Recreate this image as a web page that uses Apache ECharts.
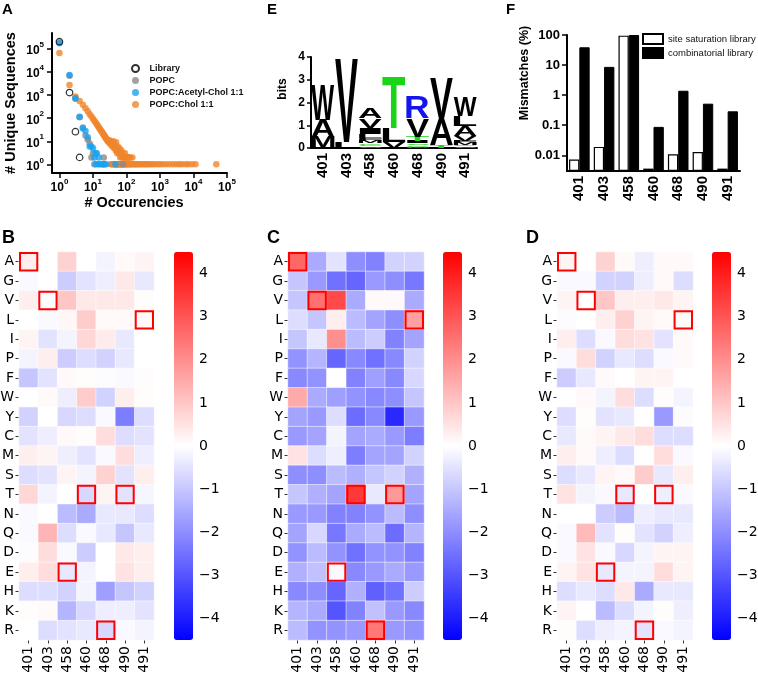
<!DOCTYPE html>
<html>
<head>
<meta charset="utf-8">
<script src="https://cdn.jsdelivr.net/npm/echarts@6/dist/echarts.min.js"></script>
<style>
  html, body { margin: 0; padding: 0; background: #fff; }
  #chart { width: 758px; height: 674px; }
</style>
</head>
<body>
<div id="chart"></div>
<script>
// ---- data ----
const positions = ['401', '403', '458', '460', '468', '490', '491'];
const residues = ['A','G','V','L','I','P','F','W','Y','C','M','S','T','N','Q','D','E','H','K','R'];

// panel A: [# occurencies, # unique sequences]
const libraryPts = [[1,210000],[2,1300],[3,26],[4,2]];
const popcPts = [[1,200000],[2,7000],[3,700],[4,110],[5,40],[6,18],[7,12],[8,8],[9,2],[10,3],[11,1],[21,2],[21,1],[78,1]];
const acetylPts = [[1,180000],[2,7600],[3,740],[4,115],[5,36],[6,28],[7,15],[8,6],[9,6],[10,5],[11,2],[12,3],[13,3],[15,2],
  [12,1],[14,1],[16,1],[18,1],[20,1],[22,1],[25,1],[47,1]];
const cholPts = [[1,67000],[2,2800],[3,870],[4,560],[5,380],[6,270],[7,200],[8,150],[9,120],[10,95],[11,78],[12,65],[13,55],
  [14,47],[15,40],[16,35],[17,30],[18,27],[19,24],[20,21],[21,19],[22,17],[23,16],[24,14],[25,13],[26,12],[27,11],[28,10],
  [30,9],[31,11],[32,8],[33,10],[35,7],[36,9],[38,6],[39,8],[41,10],[43,5],[44,7],[46,6],[48,4],[49,9],[51,5],[53,3],[55,6],
  [57,4],[60,3],[62,5],[65,2],[68,3],[71,4],[74,2],[78,3],[82,2],[86,2],[90,3],[95,2],[100,2],[106,2],[112,2],[120,2],[130,2],[150,2],
  [34,1],[37,1],[40,1],[42,1],[45,1],[47,1],[50,1],[52,1],[54,1],[56,1],[58,1],[61,1],[64,1],[67,1],[70,1],[73,1],[76,1],
  [80,1],[84,1],[88,1],[93,1],[98,1],[104,1],[110,1],[117,1],[125,1],[135,1],[145,1],[160,1],[175,1],[190,1],[210,1],[230,1],
  [250,1],[280,1],[320,1],[360,1],[400,1],[450,1],[520,1],[600,1],[700,1],[850,1],[1000,1],[1200,1],[1500,1],[1900,1],
  [2400,1],[3000,1],[3700,1],[4500,1],[5800,1],[7000,1],[9000,1],[11500,1],[48000,1]];
const powTicks = [1, 10, 100, 1000, 10000, 100000];

// panel E: sequence logo, letters bottom -> top, heights in bits
const logoLetters = [['M','A','W'], ['L','V'], ['S','G','C','M','F','L','I','V','A'], ['V','L','T'],
  ['G','C','S','I','T','V','R'], ['T','A','V'], ['S','G','M','F','V','A','L','W']];
const logoBits = [[0.48,0.77,1.5], [0.28,3.65], [0.07,0.07,0.08,0.1,0.12,0.16,0.3,0.4,0.45], [0.28,0.62,2.3],
  [0.06,0.06,0.08,0.1,0.2,0.8,0.95], [0.12,1.15,1.8], [0.07,0.07,0.08,0.1,0.2,0.43,0.47,0.85]];

// panel F: mismatches (%)
const siteSat = [0.0072, 0.019, 95, 0.0036, 0.0108, 0.0129, 0.0036];
const combinatorial = [39, 8.7, 100, 0.088, 1.4, 0.52, 0.29];
const mismatchTicks = [0.01, 0.1, 1, 10, 100];

// panels B, C, D: rows follow residues, columns follow positions
const heatB = [
  [0.3, 0.0, 0.8, 0.0, -0.2, 0.1, 0.2],
  [-0.1, 0.0, -0.9, -0.5, -0.3, 0.4, -0.4],
  [0.3, -0.05, 1.0, 0.4, 0.4, 0.4, 0.05],
  [0.0, -0.1, 0.15, 0.9, 0.1, 0.1, 0.1],
  [0.2, -0.5, -0.2, 0.7, 0.35, -0.4, 0.0],
  [-0.2, 0.3, -0.9, -0.6, -0.8, -0.4, 0.0],
  [-1.0, -0.5, 0.1, 0.05, -0.05, -0.1, 0.05],
  [0.0, 0.1, -0.3, 0.9, -0.8, 0.3, 0.05],
  [-0.8, 0.0, -0.7, -0.6, -0.1, -2.3, -0.6],
  [-0.5, -0.3, 0.1, 0.05, 0.6, -0.6, -0.5],
  [0.3, 0.2, -0.3, -0.5, -0.1, 0.6, -0.3],
  [-0.6, -0.5, 0.2, -0.2, 0.8, -0.5, 0.3],
  [0.7, -0.2, 0.0, -0.7, 0.2, -0.5, -0.15],
  [-0.1, 0.0, -1.2, -1.5, -0.4, -0.4, -0.6],
  [-0.1, 1.3, -0.6, -0.1, -0.4, -1.0, -0.4],
  [-0.05, 0.6, -0.1, -0.9, 0.0, 0.4, 0.3],
  [0.3, 0.6, -0.4, -0.2, 0.0, 0.5, 0.3],
  [-0.6, -0.6, -0.8, -0.2, -1.7, -1.0, -0.8],
  [0.05, 0.1, -1.3, -0.7, -0.3, -0.3, -0.5],
  [0.0, -0.6, -0.5, -0.4, -0.7, -0.1, -0.2]
];
const heatC = [
  [2.7, -1.5, -0.5, -2.0, -2.2, -0.8, -0.8],
  [-1.0, -1.8, -2.5, -2.7, -1.8, -2.0, -2.4],
  [-1.0, 2.5, 3.2, -1.5, 0.1, 0.1, -1.5],
  [-0.6, -1.0, 0.3, -1.2, -1.6, -2.0, 1.7],
  [-1.0, -0.4, 2.0, -1.2, -0.9, -2.2, -1.6],
  [-1.9, -1.3, -2.7, -2.1, -2.5, -2.1, -0.8],
  [-2.1, -1.9, 0.0, -2.2, -1.7, -2.1, -0.7],
  [1.5, -1.5, -1.7, -1.9, -2.1, -2.0, -1.0],
  [-1.6, -1.8, -0.6, -2.6, -2.1, -3.8, -1.8],
  [-1.8, -1.6, -0.2, -1.6, -1.5, -1.8, -2.3],
  [0.5, -0.6, -0.3, -2.3, -1.6, -1.6, -0.8],
  [-2.0, -2.0, -1.2, -1.4, -1.0, -0.8, -1.4],
  [-1.0, -1.4, -1.6, 3.5, -0.4, 1.8, -1.6],
  [-1.8, -1.8, -2.2, -2.2, -1.9, -1.2, -2.0],
  [-1.6, -0.7, -2.4, -1.5, -1.2, -2.6, -1.3],
  [-1.9, -1.2, -1.9, -2.5, -1.9, -1.9, -2.2],
  [-1.4, -1.1, -0.1, -2.1, -1.8, -1.5, -1.8],
  [-2.1, -2.0, -2.7, -1.4, -2.8, -2.5, -0.9],
  [-1.3, -1.5, -3.0, -2.2, -1.1, -1.8, -2.1],
  [-1.2, -1.9, -1.9, -1.8, 2.4, -1.8, -1.9]
];
const heatD = [
  [0.2, 0.0, 0.8, 0.1, -0.3, 0.1, 0.1],
  [-0.1, -0.1, -0.8, -0.8, -0.3, 0.1, -0.6],
  [0.2, 0.0, 1.0, 0.3, 0.3, 0.4, 0.2],
  [-0.05, 0.0, 0.3, 0.8, 0.2, 0.1, 0.1],
  [0.3, -0.6, -0.1, 0.6, 0.5, -0.5, 0.1],
  [-0.1, 0.6, -0.8, -0.4, -0.6, -0.1, 0.1],
  [-0.9, -0.4, 0.1, 0.0, 0.2, 0.2, 0.0],
  [0.0, 0.1, -0.2, 0.6, -0.6, 0.05, -0.2],
  [-0.6, 0.05, -0.5, -0.4, 0.0, -1.8, -0.05],
  [-0.4, 0.1, 0.2, 0.4, 0.6, -0.6, -0.6],
  [0.3, 0.1, -0.3, -0.6, 0.0, 0.6, -0.1],
  [-0.6, -0.4, 0.2, 0.1, 0.9, -0.4, 0.3],
  [0.5, -0.2, -0.1, -0.4, 0.0, -0.3, -0.1],
  [0.0, 0.0, -0.9, -1.2, -0.3, -0.4, -0.4],
  [-0.1, 1.2, -0.5, 0.05, -0.5, -0.8, -0.3],
  [-0.1, 0.5, -0.1, -0.7, -0.2, 0.2, 0.2],
  [0.2, 0.5, -0.4, -0.2, -0.2, 0.6, 0.2],
  [-0.6, -0.4, -0.6, 0.4, -1.5, -0.4, -0.4],
  [0.2, 0.0, -1.2, -0.6, -0.2, 0.05, -0.3],
  [0.05, -0.6, -0.3, -0.2, -0.5, -0.1, -0.2]
];
// wild-type residue at each position (red boxes)
const wildType = [['401','A'],['403','V'],['458','E'],['460','T'],['468','R'],['490','T'],['491','L']];
const cbarTicks = [-4, -3, -2, -1, 0, 1, 2, 3, 4];

// ---- helpers ----
const ARIAL = 'Liberation Sans';
const DEJAVU = 'DejaVu Sans';
const LOGO_FONT = 'bold 100px "Liberation Sans"';

function letterColor(ch) {
  if ('GSTYC'.indexOf(ch) >= 0) return '#19d419';
  if ('KRH'.indexOf(ch) >= 0) return '#1414ee';
  if ('DE'.indexOf(ch) >= 0) return '#e01010';
  if ('NQ'.indexOf(ch) >= 0) return '#a020c0';
  return '#000';
}

const mctx = document.createElement('canvas').getContext('2d');
mctx.font = LOGO_FONT;
mctx.textBaseline = 'middle';
mctx.textAlign = 'left';
const glyphCache = {};
function glyphBox(ch) {
  if (!glyphCache[ch]) {
    const m = mctx.measureText(ch);
    glyphCache[ch] = { l: m.actualBoundingBoxLeft, r: m.actualBoundingBoxRight,
      a: m.actualBoundingBoxAscent, d: m.actualBoundingBoxDescent };
  }
  return glyphCache[ch];
}

// stacked logo items
const logoItems = [];
logoLetters.forEach(function (col, i) {
  let base = 0;
  col.forEach(function (ch, j) {
    const h = logoBits[i][j];
    logoItems.push({ pos: i, y0: base, y1: base + h, letter: ch });
    base += h;
  });
});

function cells(matrix) {
  const out = [];
  matrix.forEach(function (row, yi) {
    row.forEach(function (v, xi) { out.push([xi, yi, v]); });
  });
  return out;
}

function powLabel(v) {
  const e = Math.round(Math.log10(v));
  return '{b|10}{s|' + e + '}';
}
const powRich = {
  b: { fontSize: 12, fontWeight: 'bold', fontFamily: ARIAL, color: '#000', padding: [4, 0, 0, 0] },
  s: { fontSize: 8, fontWeight: 'bold', fontFamily: ARIAL, color: '#000', verticalAlign: 'top' }
};

const blackLine = { color: '#000', width: 2 };
const blackTick = { color: '#000', width: 1.5 };

// ---- layout of grids ----
const heatGrids = [
  { left: 19, top: 252, width: 135, height: 388, cbar: 174 },
  { left: 288, top: 252, width: 136, height: 388, cbar: 443 },
  { left: 557, top: 252, width: 136, height: 388, cbar: 712 }
];

const grids = [
  { left: 52, top: 33, width: 175, height: 140 },   // A
  { left: 311, top: 57, width: 166, height: 91 },   // E
  { left: 567, top: 35, width: 173, height: 136 }   // F
];
heatGrids.forEach(function (g) { grids.push({ left: g.left, top: g.top, width: g.width, height: g.height }); });
heatGrids.forEach(function (g) { grids.push({ left: g.cbar, top: g.top, width: 19, height: g.height }); });
grids.forEach(function (g) { g.outerBoundsMode = 'none'; g.containLabel = false; });

const xAxes = [
  { type: 'log', gridIndex: 0, min: 0.6, max: 100000,
    axisLine: { lineStyle: blackLine }, splitLine: { show: false },
    axisTick: { length: 5, lineStyle: blackTick, customValues: powTicks },
    axisLabel: { customValues: powTicks, formatter: powLabel, rich: powRich, margin: 5 } },
  { type: 'category', gridIndex: 1, data: positions,
    axisLine: { lineStyle: blackLine },
    axisTick: { alignWithLabel: true, length: 4, lineStyle: blackTick },
    axisLabel: { rotate: 90, interval: 0, fontSize: 15, fontWeight: 'bold', fontFamily: ARIAL, color: '#000', margin: 5 } },
  { type: 'category', gridIndex: 2, data: positions,
    axisLine: { lineStyle: blackLine },
    axisTick: { alignWithLabel: true, length: 4, lineStyle: blackTick },
    axisLabel: { rotate: 90, interval: 0, fontSize: 15, fontWeight: 'bold', fontFamily: ARIAL, color: '#000', margin: 5 } }
];
const yAxes = [
  { type: 'log', gridIndex: 0, min: 0.42, max: 500000,
    axisLine: { lineStyle: blackLine }, splitLine: { show: false },
    axisTick: { length: 5, lineStyle: blackTick, customValues: powTicks },
    axisLabel: { customValues: powTicks, formatter: powLabel, rich: powRich, margin: 8 } },
  { type: 'value', gridIndex: 1, min: 0, max: 4, interval: 1,
    axisLine: { show: true, lineStyle: blackLine }, splitLine: { show: false },
    axisTick: { show: true, length: 4, lineStyle: blackTick },
    axisLabel: { fontSize: 12, fontWeight: 'bold', fontFamily: ARIAL, color: '#000', margin: 6 } },
  { type: 'log', gridIndex: 2, min: 0.003, max: 100, startValue: 0.003,
    axisLine: { show: true, lineStyle: blackLine }, splitLine: { show: false },
    axisTick: { show: true, length: 5, lineStyle: blackTick, customValues: mismatchTicks },
    axisLabel: { customValues: mismatchTicks, formatter: function (v) { return String(v); },
      fontSize: 13, fontWeight: 'bold', fontFamily: ARIAL, color: '#000', margin: 7 } }
];

heatGrids.forEach(function (g, k) {
  const gi = 3 + k;
  xAxes.push({ type: 'category', gridIndex: gi, data: positions,
    axisLine: { show: false }, splitLine: { show: false },
    axisTick: { show: true, alignWithLabel: true, length: 3.5, lineStyle: { color: '#000', width: 0.8 } },
    axisLabel: { rotate: 90, interval: 0, fontSize: 14, fontFamily: DEJAVU, color: '#000', margin: 6 } });
  yAxes.push({ type: 'category', gridIndex: gi, data: residues, inverse: true,
    axisLine: { show: false }, splitLine: { show: false },
    axisTick: { show: true, alignWithLabel: true, length: 3.5, lineStyle: { color: '#000', width: 0.8 } },
    axisLabel: { interval: 0, fontSize: 14, fontFamily: DEJAVU, color: '#000', margin: 5 } });
});
heatGrids.forEach(function (g, k) {
  const gi = 6 + k;
  xAxes.push({ type: 'value', gridIndex: gi, show: false, min: 0, max: 1 });
  yAxes.push({ type: 'value', gridIndex: gi, position: 'right', min: -4.5, max: 4.5,
    axisLine: { show: false }, splitLine: { show: false },
    axisTick: { show: true, length: 3.5, customValues: cbarTicks, lineStyle: { color: '#000', width: 0.8 } },
    axisLabel: { customValues: cbarTicks, fontSize: 14, fontFamily: DEJAVU, color: '#000', margin: 6,
      formatter: function (v) { return v < 0 ? '\u2212' + (-v) : String(v); } } });
});

// ---- series ----
const series = [
  { name: 'POPC:Chol 1:1', type: 'scatter', xAxisIndex: 0, yAxisIndex: 0, data: cholPts,
    symbolSize: 6.5, itemStyle: { color: '#f0842c' } },
  { name: 'POPC', type: 'scatter', xAxisIndex: 0, yAxisIndex: 0, data: popcPts,
    symbolSize: 6.5, itemStyle: { color: '#8a8a8a' } },
  { name: 'POPC:Acetyl-Chol 1:1', type: 'scatter', xAxisIndex: 0, yAxisIndex: 0, data: acetylPts,
    symbolSize: 6.5, itemStyle: { color: '#17a2f2' } },
  { name: 'Library', type: 'scatter', xAxisIndex: 0, yAxisIndex: 0, data: libraryPts,
    symbolSize: 6.5, itemStyle: { color: 'rgba(255,255,255,0)', borderColor: '#000', borderWidth: 1.2 } },
  { type: 'custom', xAxisIndex: 1, yAxisIndex: 1,
    data: logoItems.map(function (it) { return [it.pos, it.y0, it.y1]; }),
    renderItem: function (params, api) {
      const it = logoItems[params.dataIndex];
      const p0 = api.coord([api.value(0), api.value(1)]);
      const p1 = api.coord([api.value(0), api.value(2)]);
      const bw = api.size([1, 0])[0] * 0.97;
      const h = p0[1] - p1[1];
      if (h < 0.3) return null;
      const g = glyphBox(it.letter);
      const sx = bw / (g.l + g.r);
      const sy = h / (g.a + g.d);
      return {
        type: 'text',
        x: p0[0] - bw / 2 + g.l * sx,
        y: p1[1] + g.a * sy,
        scaleX: sx, scaleY: sy,
        style: { text: it.letter, font: LOGO_FONT, fill: letterColor(it.letter), align: 'left', verticalAlign: 'middle' }
      };
    } },
  { name: 'site saturation library', type: 'bar', xAxisIndex: 2, yAxisIndex: 2, data: siteSat,
    barWidth: 10.3, barGap: '0%', itemStyle: { color: '#fff', borderColor: '#000', borderWidth: 1.2 } },
  { name: 'combinatorial library', type: 'bar', xAxisIndex: 2, yAxisIndex: 2, data: combinatorial,
    barWidth: 10.3, barGap: '0%', itemStyle: { color: '#000', borderColor: '#000', borderWidth: 1 } }
];

const heatSeriesStart = series.length;
[heatB, heatC, heatD].forEach(function (m, k) {
  series.push({ type: 'heatmap', xAxisIndex: 3 + k, yAxisIndex: 3 + k, data: cells(m),
    itemStyle: { borderColor: '#fff', borderWidth: 0.5 }, emphasis: { disabled: true } });
});
[0, 1, 2].forEach(function (k) {
  series.push({ type: 'custom', xAxisIndex: 3 + k, yAxisIndex: 3 + k, z: 5, data: wildType,
    renderItem: function (params, api) {
      const c = api.coord([api.value(0), api.value(1)]);
      const s = api.size([1, 1]);
      return { type: 'rect',
        shape: { x: c[0] - s[0] / 2 + 1, y: c[1] - s[1] / 2 + 1, width: s[0] - 2, height: s[1] - 2 },
        style: { fill: 'none', stroke: '#ff0000', lineWidth: 2 } };
    } });
});

const visualMaps = heatGrids.map(function (g, k) {
  return { type: 'continuous', seriesIndex: heatSeriesStart + k, min: -4.5, max: 4.5,
    calculable: false, orient: 'vertical', left: g.cbar, top: g.top, itemWidth: 19, itemHeight: g.height,
    padding: 0, hoverLink: false, inRange: { color: ['#0000ff', '#ffffff', '#ff0000'] } };
});

function label(text, x, y, size) {
  return { type: 'text', x: x, y: y, style: { text: text, fontSize: size, fontWeight: 'bold', fontFamily: ARIAL, fill: '#000' } };
}
function axisTitle(text, x, y, size, rotated) {
  return { type: 'text', x: x, y: y, rotation: rotated ? Math.PI / 2 : 0,
    style: { text: text, fontSize: size, fontWeight: 'bold', fontFamily: ARIAL, fill: '#000', align: 'center', verticalAlign: 'middle' } };
}

const chart = echarts.init(document.getElementById('chart'), null, { renderer: 'canvas' });
chart.setOption({
  animation: false,
  backgroundColor: '#fff',
  textStyle: { fontFamily: ARIAL },
  grid: grids,
  xAxis: xAxes,
  yAxis: yAxes,
  visualMap: visualMaps,
  legend: [
    { data: ['Library', 'POPC', 'POPC:Acetyl-Chol 1:1', 'POPC:Chol 1:1'], orient: 'vertical', left: 131, top: 64,
      itemWidth: 18, itemHeight: 7, itemGap: 3, padding: 0, icon: 'circle',
      textStyle: { fontSize: 9, fontWeight: 'bold', fontFamily: ARIAL, color: '#111' } },
    { data: ['site saturation library', 'combinatorial library'], orient: 'vertical', left: 642, top: 33,
      itemWidth: 20, itemHeight: 10, itemGap: 2, padding: 0, icon: 'rect',
      textStyle: { fontSize: 9.5, fontFamily: ARIAL, color: '#111' } }
  ],
  graphic: [
    label('A', 2, 2, 15), label('E', 267, 2, 15), label('F', 506, 2, 15),
    label('B', 2, 229, 18), label('C', 267, 229, 18), label('D', 526, 229, 18),
    axisTitle('# Unique Sequences', 11, 103, 14.5, true),
    axisTitle('# Occurencies', 134, 203, 14.5, false),
    axisTitle('bits', 283, 89, 12, true),
    axisTitle('Mismatches (%)', 525, 73, 12.5, true)
  ],
  series: series
});
</script>
</body>
</html>
